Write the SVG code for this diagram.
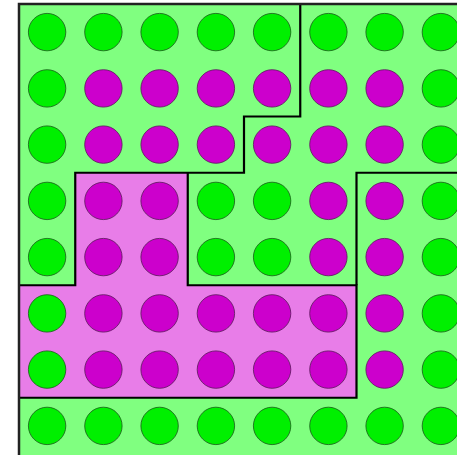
<svg xmlns="http://www.w3.org/2000/svg" width="457" height="455" viewBox="0 0 457 455">
<defs>
<style>
.g{fill:#00f000;stroke:#1a5a1a;stroke-width:1;stroke-opacity:0.8}
.m{fill:#cc00cc;stroke:#5a1a5a;stroke-width:1;stroke-opacity:0.8}
.ln{fill:none;stroke:#000;stroke-width:2.2;stroke-linejoin:miter}
</style>
</defs>
<rect x="0" y="0" width="457" height="455" fill="#fff"/>
<rect id="board" x="19" y="4" width="450" height="460" fill="#80ff80"/>
<path id="pink" d="M75.25,172.75H187.75V285.25H356.5V397.75H19V285.25H75.25Z" fill="#e87de8"/>
<g id="circles">
<circle class="g" cx="47.1" cy="32.1" r="18.7"/><circle class="g" cx="103.4" cy="32.1" r="18.7"/><circle class="g" cx="159.6" cy="32.1" r="18.7"/><circle class="g" cx="215.9" cy="32.1" r="18.7"/><circle class="g" cx="272.1" cy="32.1" r="18.7"/><circle class="g" cx="328.4" cy="32.1" r="18.7"/><circle class="g" cx="384.6" cy="32.1" r="18.7"/><circle class="g" cx="440.9" cy="32.1" r="18.7"/>
<circle class="g" cx="47.1" cy="88.4" r="18.7"/><circle class="m" cx="103.4" cy="88.4" r="18.7"/><circle class="m" cx="159.6" cy="88.4" r="18.7"/><circle class="m" cx="215.9" cy="88.4" r="18.7"/><circle class="m" cx="272.1" cy="88.4" r="18.7"/><circle class="m" cx="328.4" cy="88.4" r="18.7"/><circle class="m" cx="384.6" cy="88.4" r="18.7"/><circle class="g" cx="440.9" cy="88.4" r="18.7"/>
<circle class="g" cx="47.1" cy="144.6" r="18.7"/><circle class="m" cx="103.4" cy="144.6" r="18.7"/><circle class="m" cx="159.6" cy="144.6" r="18.7"/><circle class="m" cx="215.9" cy="144.6" r="18.7"/><circle class="m" cx="272.1" cy="144.6" r="18.7"/><circle class="m" cx="328.4" cy="144.6" r="18.7"/><circle class="m" cx="384.6" cy="144.6" r="18.7"/><circle class="g" cx="440.9" cy="144.6" r="18.7"/>
<circle class="g" cx="47.1" cy="200.9" r="18.7"/><circle class="m" cx="103.4" cy="200.9" r="18.7"/><circle class="m" cx="159.6" cy="200.9" r="18.7"/><circle class="g" cx="215.9" cy="200.9" r="18.7"/><circle class="g" cx="272.1" cy="200.9" r="18.7"/><circle class="m" cx="328.4" cy="200.9" r="18.7"/><circle class="m" cx="384.6" cy="200.9" r="18.7"/><circle class="g" cx="440.9" cy="200.9" r="18.7"/>
<circle class="g" cx="47.1" cy="257.1" r="18.7"/><circle class="m" cx="103.4" cy="257.1" r="18.7"/><circle class="m" cx="159.6" cy="257.1" r="18.7"/><circle class="g" cx="215.9" cy="257.1" r="18.7"/><circle class="g" cx="272.1" cy="257.1" r="18.7"/><circle class="m" cx="328.4" cy="257.1" r="18.7"/><circle class="m" cx="384.6" cy="257.1" r="18.7"/><circle class="g" cx="440.9" cy="257.1" r="18.7"/>
<circle class="g" cx="47.1" cy="313.4" r="18.7"/><circle class="m" cx="103.4" cy="313.4" r="18.7"/><circle class="m" cx="159.6" cy="313.4" r="18.7"/><circle class="m" cx="215.9" cy="313.4" r="18.7"/><circle class="m" cx="272.1" cy="313.4" r="18.7"/><circle class="m" cx="328.4" cy="313.4" r="18.7"/><circle class="m" cx="384.6" cy="313.4" r="18.7"/><circle class="g" cx="440.9" cy="313.4" r="18.7"/>
<circle class="g" cx="47.1" cy="369.6" r="18.7"/><circle class="m" cx="103.4" cy="369.6" r="18.7"/><circle class="m" cx="159.6" cy="369.6" r="18.7"/><circle class="m" cx="215.9" cy="369.6" r="18.7"/><circle class="m" cx="272.1" cy="369.6" r="18.7"/><circle class="m" cx="328.4" cy="369.6" r="18.7"/><circle class="m" cx="384.6" cy="369.6" r="18.7"/><circle class="g" cx="440.9" cy="369.6" r="18.7"/>
<circle class="g" cx="47.1" cy="425.9" r="18.7"/><circle class="g" cx="103.4" cy="425.9" r="18.7"/><circle class="g" cx="159.6" cy="425.9" r="18.7"/><circle class="g" cx="215.9" cy="425.9" r="18.7"/><circle class="g" cx="272.1" cy="425.9" r="18.7"/><circle class="g" cx="328.4" cy="425.9" r="18.7"/><circle class="g" cx="384.6" cy="425.9" r="18.7"/><circle class="g" cx="440.9" cy="425.9" r="18.7"/>
</g>
<g id="lines">
<path class="ln" d="M300.25,4V116.5H244V172.75H75.25V285.25H19"/>
<path class="ln" d="M187.75,172.75V285.25H356.5V397.75H19"/>
<path class="ln" d="M356.5,285.25V172.75H469"/>
</g>
<rect id="border" x="19" y="4" width="450" height="470" fill="none" stroke="#222" stroke-width="2.5"/>
</svg>
